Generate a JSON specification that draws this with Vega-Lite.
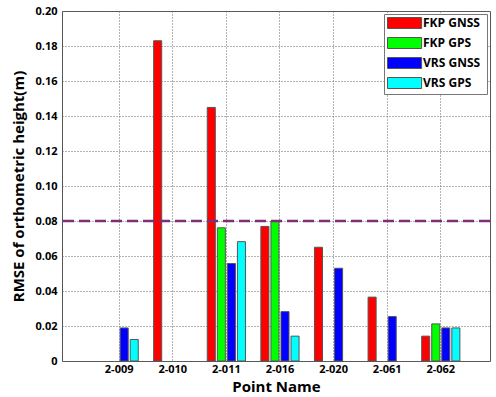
{
  "$schema": "https://vega.github.io/schema/vega-lite/v6.json",
  "width": 428,
  "height": 350,
  "autosize": "none",
  "padding": {"left": 62, "top": 11, "right": 6, "bottom": 36},
  "background": "white",
  "config": {
    "font": "Open Sans",
    "view": {"stroke": "#555", "strokeWidth": 1},
    "axis": {"labelOverlap": false}
  },
  "encoding": {
    "y": {
      "type": "quantitative",
      "scale": {"domain": [0, 0.2], "nice": false},
      "axis": {
        "title": "RMSE of orthometric height(m)",
        "values": [0, 0.02, 0.04, 0.06, 0.08, 0.1, 0.12, 0.14, 0.16, 0.18, 0.2],
        "labelExpr": "datum.value == 0 ? '0' : format(datum.value, '.2f')",
        "labelOverlap": false,
        "grid": true, "gridColor": "#666", "gridDash": [1, 2], "gridWidth": 1,
        "domain": false, "ticks": false,
        "labelFont": "Open Sans", "labelFontSize": 11, "labelFontWeight": "bold", "labelColor": "#000",
        "labelPadding": 5,
        "titleFont": "Open Sans", "titleFontSize": 15, "titleFontWeight": "bold", "titleColor": "#000",
        "titlePadding": 8
      }
    }
  },
  "layer": [
    {
      "data": {"values": [
        {"point": "2-009", "series": "VRS  GNSS", "rmse": 0.0189},
        {"point": "2-009", "series": "VRS  GPS", "rmse": 0.0123},
        {"point": "2-010", "series": "FKP  GNSS", "rmse": 0.183},
        {"point": "2-011", "series": "FKP  GNSS", "rmse": 0.1449},
        {"point": "2-011", "series": "FKP  GPS", "rmse": 0.0761},
        {"point": "2-011", "series": "VRS  GNSS", "rmse": 0.0557},
        {"point": "2-011", "series": "VRS  GPS", "rmse": 0.0682},
        {"point": "2-016", "series": "FKP  GNSS", "rmse": 0.0769},
        {"point": "2-016", "series": "FKP  GPS", "rmse": 0.0801},
        {"point": "2-016", "series": "VRS  GNSS", "rmse": 0.0282},
        {"point": "2-016", "series": "VRS  GPS", "rmse": 0.0142},
        {"point": "2-020", "series": "FKP  GNSS", "rmse": 0.065},
        {"point": "2-020", "series": "VRS  GNSS", "rmse": 0.053},
        {"point": "2-061", "series": "FKP  GNSS", "rmse": 0.0365},
        {"point": "2-061", "series": "VRS  GNSS", "rmse": 0.0254},
        {"point": "2-062", "series": "FKP  GNSS", "rmse": 0.0142},
        {"point": "2-062", "series": "FKP  GPS", "rmse": 0.0212},
        {"point": "2-062", "series": "VRS  GNSS", "rmse": 0.0189},
        {"point": "2-062", "series": "VRS  GPS", "rmse": 0.0189}
      ]},
      "mark": {"type": "bar", "stroke": "#555", "strokeWidth": 1},
      "encoding": {
        "x": {
          "field": "point", "type": "nominal",
          "sort": ["2-009", "2-010", "2-011", "2-016", "2-020", "2-061", "2-062"],
          "scale": {"paddingInner": 0.25, "paddingOuter": 0.617, "align": 0.56},
          "axis": {
            "title": "Point Name", "labelAngle": 0,
            "grid": true, "bandPosition": 0.5,
            "gridColor": "#666", "gridDash": [1, 2], "gridWidth": 1,
            "domain": false, "ticks": false,
            "labelFont": "Open Sans", "labelFontSize": 11, "labelFontWeight": "bold", "labelColor": "#000",
            "labelPadding": 2,
            "titleFont": "Open Sans", "titleFontSize": 15, "titleFontWeight": "bold", "titleColor": "#000",
            "titlePadding": 5
          }
        },
        "xOffset": {
          "field": "series", "type": "nominal",
          "sort": ["FKP  GNSS", "FKP  GPS", "VRS  GNSS", "VRS  GPS"],
          "scale": {"domain": ["FKP  GNSS", "FKP  GPS", "VRS  GNSS", "VRS  GPS"], "paddingInner": 0.2, "paddingOuter": 0.1}
        },
        "y": {"field": "rmse", "type": "quantitative"},
        "fill": {
          "field": "series", "type": "nominal",
          "scale": {
            "domain": ["FKP  GNSS", "FKP  GPS", "VRS  GNSS", "VRS  GPS"],
            "range": ["#FF0000", "#00FF00", "#0000FF", "#00FFFF"]
          },
          "legend": {
            "title": null,
            "orient": "top-right",
            "offset": 3,
            "fillColor": "white",
            "strokeColor": "#777",
            "padding": 3,
            "symbolType": "M-1,-1H5.2V1H-1Z",
            "symbolSize": 121,
            "symbolStrokeColor": "#555",
            "symbolStrokeWidth": 1,
            "labelFont": "Open Sans",
            "labelFontSize": 12,
            "labelFontWeight": "bold",
            "labelColor": "#000",
            "labelOffset": 24,
            "rowPadding": 4
          }
        }
      }
    },
    {
      "data": {"values": [{"limit": 0.08}]},
      "mark": {"type": "rule", "stroke": "#7E2F7A", "strokeWidth": 2.5, "strokeDash": [11, 5]},
      "encoding": {"y": {"field": "limit", "type": "quantitative"}}
    }
  ]
}
